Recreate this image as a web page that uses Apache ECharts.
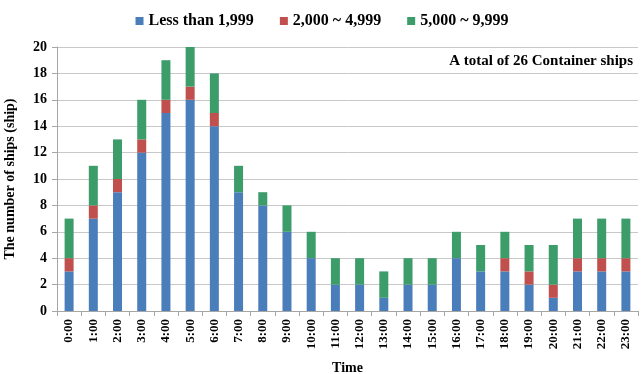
<!DOCTYPE html>
<html>
<head>
<meta charset="utf-8">
<script src="https://cdn.jsdelivr.net/npm/echarts@6/dist/echarts.min.js"></script>
<style>
  html, body { margin: 0; padding: 0; background: #fff; }
  #chart { width: 644px; height: 374px; }
</style>
</head>
<body>
<div id="chart"></div>
<script>
const hours = ['0:00', '1:00', '2:00', '3:00', '4:00', '5:00', '6:00', '7:00', '8:00', '9:00', '10:00', '11:00',
  '12:00', '13:00', '14:00', '15:00', '16:00', '17:00', '18:00', '19:00', '20:00', '21:00', '22:00', '23:00']

const small = [3, 7, 9, 12, 15, 16, 14, 9, 8, 6, 4, 2, 2, 1, 2, 2, 4, 3, 3, 2, 1, 3, 3, 3]
const medium = [1, 1, 1, 1, 1, 1, 1, 0, 0, 0, 0, 0, 0, 0, 0, 0, 0, 0, 1, 1, 1, 1, 1, 1]
const large = [3, 3, 3, 3, 3, 3, 3, 2, 1, 2, 2, 2, 2, 2, 2, 2, 2, 2, 2, 2, 3, 3, 3, 3]

const seriesNames = ['Less than 1,999', '2,000 ~ 4,999', '5,000 ~ 9,999']
const colors = ['#4A7EBB', '#C0504D', '#3C9C6A']

const font = '"Liberation Serif", "Times New Roman", serif'

const chart = echarts.init(document.getElementById('chart'))

const seriesData = [small, medium, large]

chart.setOption({
  animation: false,
  textStyle: { fontFamily: font },
  legend: {
    top: 8,
    left: 'center',
    itemWidth: 8,
    itemHeight: 8,
    itemGap: 26,
    icon: 'rect',
    textStyle: { fontFamily: font, fontSize: 16, fontWeight: 'bold', color: '#000' },
    data: seriesNames
  },
  title: {
    text: 'A total of 26 Container ships',
    right: 6,
    top: 49,
    textStyle: { fontFamily: font, fontSize: 15, fontWeight: 'bold', color: '#000' }
  },
  grid: {
    left: 57,
    right: 6,
    top: 47,
    bottom: 63,
    outerBoundsMode: 'none'
  },
  xAxis: {
    type: 'category',
    data: hours,
    name: 'Time',
    nameLocation: 'middle',
    nameGap: 50,
    nameTextStyle: { fontFamily: font, fontSize: 14, fontWeight: 'bold', color: '#000' },
    axisLine: { lineStyle: { color: '#a6a6a6' } },
    axisTick: { show: true, length: 5, lineStyle: { color: '#a6a6a6' } },
    axisLabel: {
      rotate: 90,
      interval: 0,
      fontFamily: font,
      fontSize: 13,
      fontWeight: 'bold',
      color: '#000',
      margin: 8
    }
  },
  yAxis: {
    type: 'value',
    min: 0,
    max: 20,
    interval: 2,
    name: 'The number of ships (ship)',
    nameLocation: 'middle',
    nameGap: 40,
    nameRotate: 90,
    nameTextStyle: { fontFamily: font, fontSize: 14, fontWeight: 'bold', color: '#000' },
    axisLine: { show: true, lineStyle: { color: '#a6a6a6' } },
    axisTick: { show: true, length: 5, lineStyle: { color: '#a6a6a6' } },
    axisLabel: { fontFamily: font, fontSize: 14, fontWeight: 'bold', color: '#000', margin: 10 },
    splitLine: { lineStyle: { color: '#c8c8c8', width: 1 } }
  },
  series: seriesNames.map((name, i) => ({
    name,
    type: 'bar',
    stack: 'total',
    barWidth: 9,
    data: seriesData[i],
    itemStyle: { color: colors[i] }
  }))
})
</script>
</body>
</html>
